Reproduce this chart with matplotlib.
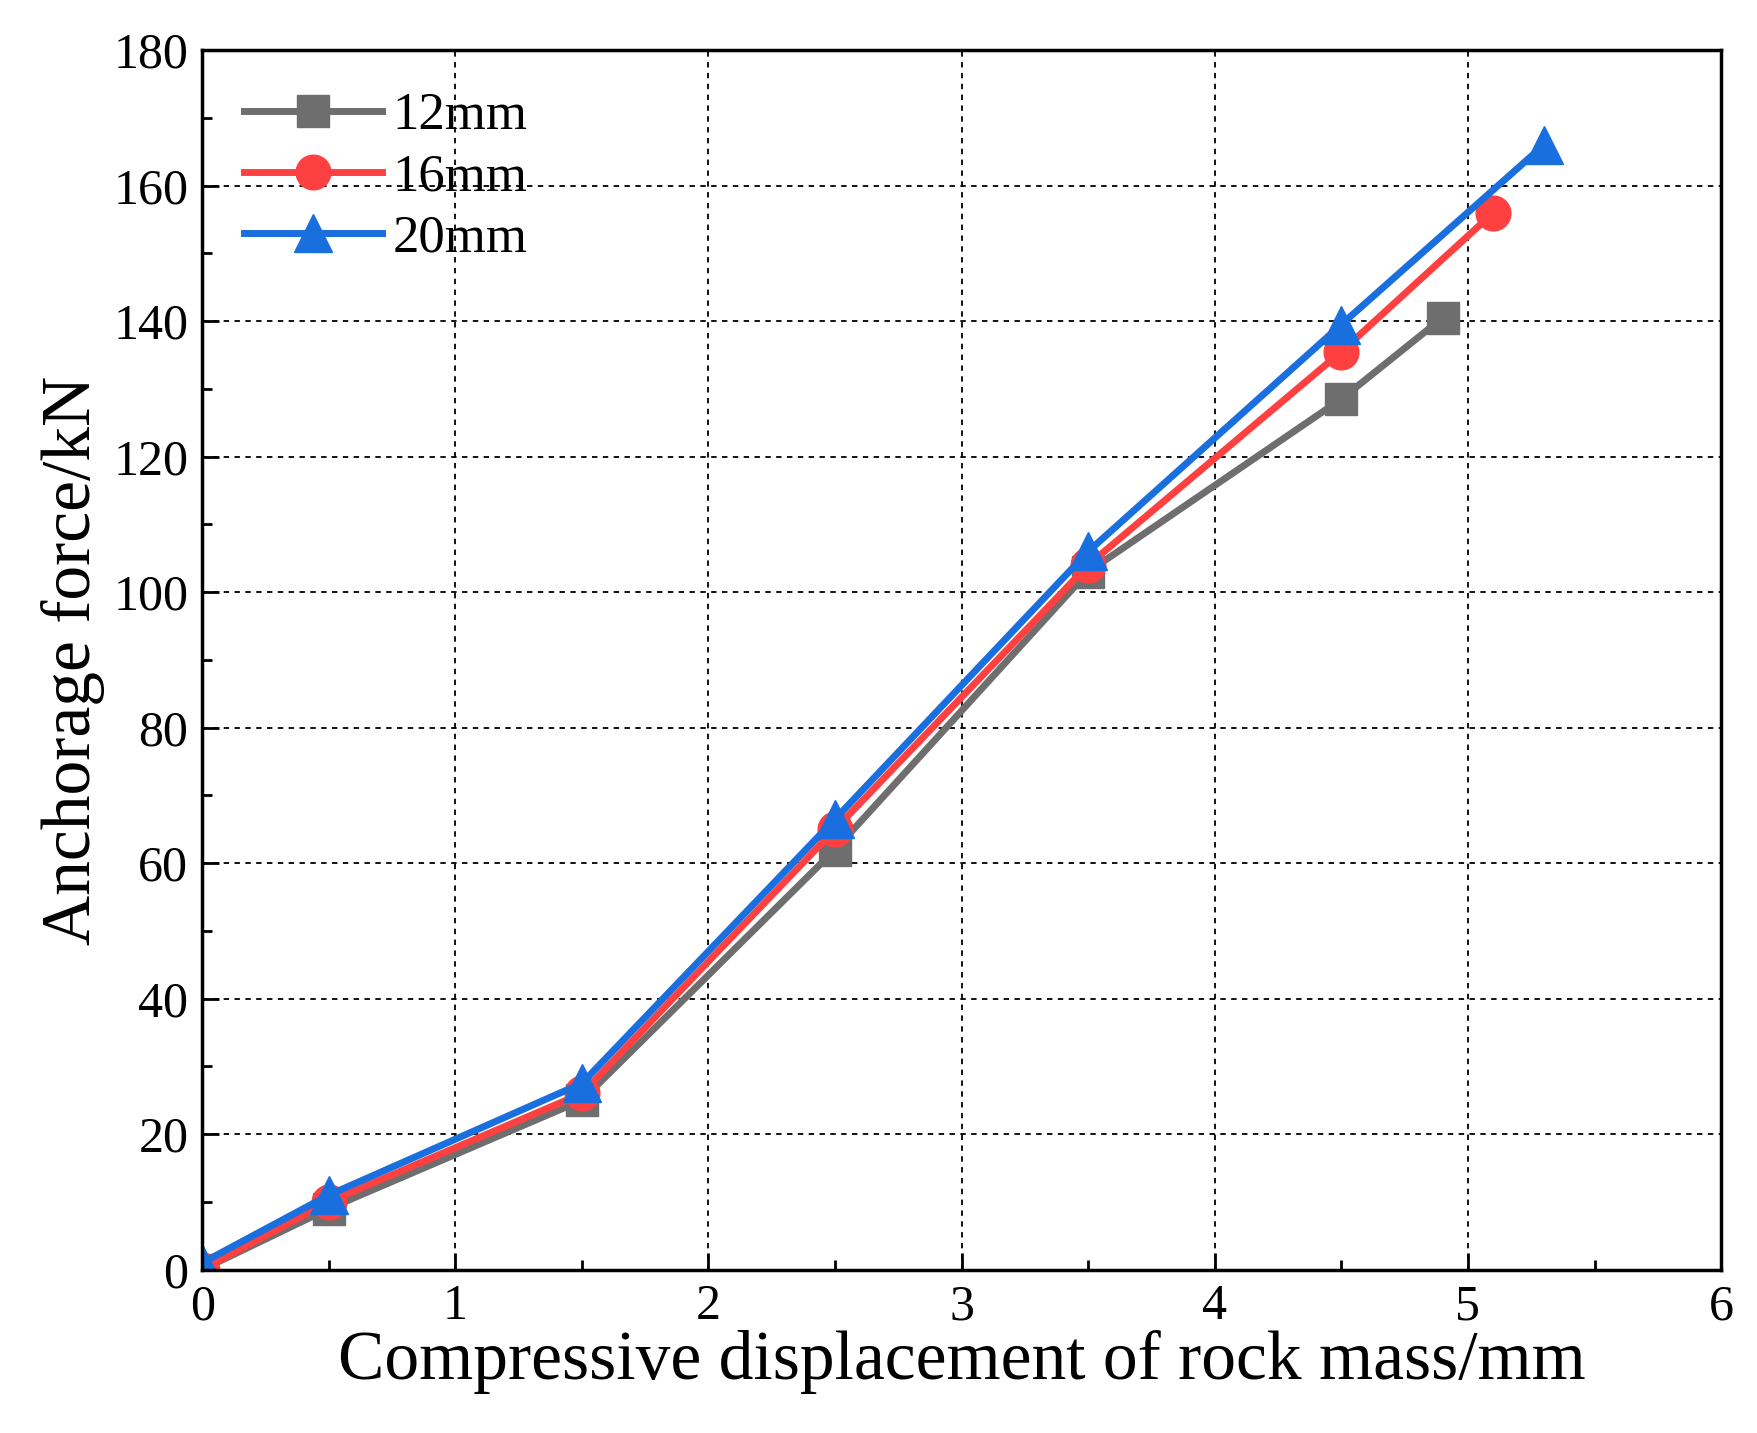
import matplotlib
matplotlib.use("Agg")
import matplotlib.pyplot as plt
from matplotlib.ticker import MultipleLocator

plt.rcParams["font.family"] = ["Liberation Serif", "DejaVu Serif"]

x_12 = [0, 0.5, 1.5, 2.5, 3.5, 4.5, 4.9]
y_12 = [0, 9, 25, 62, 103, 128.5, 140.5]
x_16 = [0, 0.5, 1.5, 2.5, 3.5, 4.5, 5.1]
y_16 = [0, 10, 26, 65, 104, 135.5, 156]
x_20 = [0, 0.5, 1.5, 2.5, 3.5, 4.5, 5.3]
y_20 = [1, 11, 27.5, 66.5, 106, 139.5, 166]

fig = plt.figure(figsize=(17.58, 14.33), dpi=100)
ax = fig.add_axes([0.115, 0.114, 0.864, 0.851])

ax.plot(x_12, y_12, "-s", color="#6e6e6e", lw=5, ms=23, label="12mm")
ax.plot(x_16, y_16, "-o", color="#ff4040", lw=5, ms=25, label="16mm")
ax.plot(x_20, y_20, "-^", color="#1a6fdf", lw=5, ms=27, label="20mm")

ax.set_xlim(0, 6)
ax.set_ylim(0, 180)
ax.xaxis.set_major_locator(MultipleLocator(1))
ax.xaxis.set_minor_locator(MultipleLocator(0.5))
ax.yaxis.set_major_locator(MultipleLocator(20))
ax.yaxis.set_minor_locator(MultipleLocator(10))
ax.tick_params(which="both", direction="in", labelsize=36, width=2)
ax.tick_params(which="major", length=12, pad=10)
ax.tick_params(which="minor", length=7)
ax.grid(True, which="major", color="black", linestyle="--", linewidth=1.3, dashes=(3, 3))
for s in ax.spines.values():
    s.set_linewidth(2.5)

ax.set_xlabel("Compressive displacement of rock mass/mm", fontsize=50, labelpad=0)
ax.set_ylabel("Anchorage force/kN", fontsize=50, labelpad=6)

ax.legend(loc="upper left", fontsize=38, frameon=False, handlelength=2.6,
          borderaxespad=0.4, labelspacing=0.25, handletextpad=0.2)

fig.savefig("out.png", dpi=100)
